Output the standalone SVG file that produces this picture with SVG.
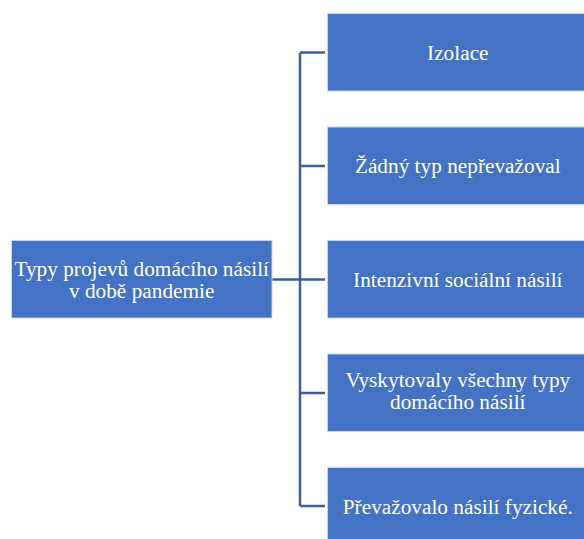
<svg xmlns="http://www.w3.org/2000/svg" width="584" height="539" viewBox="0 0 584 539">
<style>
.box{fill:#4472c4;stroke:#c7d3ea;stroke-width:1}
.t{font-family:"Liberation Serif","Times New Roman",serif;font-size:21.3px;fill:#ffffff;text-anchor:middle}
.c{fill:none;stroke:#3a5ea3;stroke-width:2.5}
</style>
<rect width="584" height="539" fill="#ffffff"/>
<g id="connectors">
<path class="c" d="M272 279.5H300M300 52.5V506M300 52.5H325M300 166H325M300 279.5H325M300 393H325M300 506H325"/>
</g>
<g id="root">
<rect class="box" x="11.5" y="240.5" width="260.5" height="77.5"/>
<text class="t" x="141.7" y="275.5">Typy projevů domácího násilí</text>
<text class="t" x="141.7" y="297.5">v době pandemie</text>
</g>
<g id="n1">
<rect class="box" x="327.5" y="13.5" width="260.5" height="77.5"/>
<text class="t" x="457.8" y="59.8">Izolace</text>
</g>
<g id="n2">
<rect class="box" x="327.5" y="127" width="260.5" height="77.5"/>
<text class="t" x="457.8" y="173.3">Žádný typ nepřevažoval</text>
</g>
<g id="n3">
<rect class="box" x="327.5" y="240.5" width="260.5" height="77.5"/>
<text class="t" x="457.8" y="286.8">Intenzivní sociální násilí</text>
</g>
<g id="n4">
<rect class="box" x="327.5" y="354" width="260.5" height="77.5"/>
<text class="t" x="457.8" y="387">Vyskytovaly všechny typy</text>
<text class="t" x="457.8" y="409">domácího násilí</text>
</g>
<g id="n5">
<rect class="box" x="327.5" y="467.5" width="260.5" height="77.5"/>
<text class="t" x="457.8" y="513.5">Převažovalo násilí fyzické.</text>
</g>
</svg>
